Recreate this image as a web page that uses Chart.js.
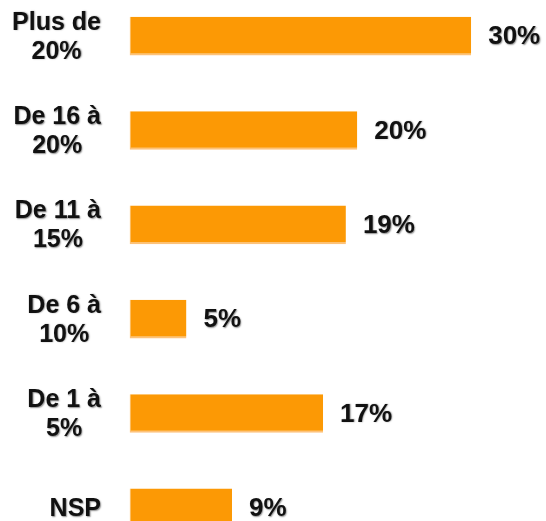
<!DOCTYPE html>
<html>
<head>
<meta charset="utf-8">
<script src="https://cdn.jsdelivr.net/npm/chart.js@4/dist/chart.umd.min.js"></script>
<style>
  html, body { margin: 0; padding: 0; background: #fff; overflow: hidden; }
  #wrap { position: absolute; left: 0; top: -11px; width: 546px; height: 566px; }
</style>
</head>
<body>
<div id="wrap"><canvas id="chart" width="546" height="566"></canvas></div>
<script>
// Data
const categories = [
  ['Plus de', '20%'],
  ['De 16 à', '20%'],
  ['De 11 à', '15%'],
  ['De 6 à', '10%'],
  ['De 1 à', '5%'],
  ['NSP']
];
const values = [30, 20, 19, 5, 17, 9];

const barColor = '#FC9905';
const edgeColor = '#FDC27A';
const textColor = '#111111';
const fontFamily = '"Liberation Sans", Arial, sans-serif';

// draws the value at the end of each bar and the category text on the left
const labelsPlugin = {
  id: 'labels',
  afterDatasetsDraw(chart) {
    const ctx = chart.ctx;
    const meta = chart.getDatasetMeta(0);
    const yScale = chart.scales.y;
    ctx.save();
    ctx.fillStyle = textColor;
    ctx.shadowColor = 'rgba(0,0,0,0.45)';
    ctx.shadowBlur = 1.5;
    ctx.shadowOffsetX = 0.8;
    ctx.shadowOffsetY = 0.8;

    // values
    ctx.font = 'bold 26px ' + fontFamily;
    ctx.textAlign = 'left';
    ctx.textBaseline = 'middle';
    meta.data.forEach((bar, i) => {
      ctx.fillText(values[i] + '%', bar.x + 17, bar.y + 1);
    });

    // categories: block right-aligned, lines centred inside it
    ctx.font = 'bold 25px ' + fontFamily;
    ctx.textAlign = 'center';
    const lineHeight = 29;
    const rightEdge = 101;
    categories.forEach((lines, i) => {
      const cy = yScale.getPixelForValue(i) + 1;
      const maxW = Math.max(...lines.map(l => ctx.measureText(l).width));
      const cx = rightEdge - maxW / 2;
      const top = cy - (lines.length - 1) * lineHeight / 2;
      lines.forEach((l, j) => {
        ctx.fillText(l, cx, top + j * lineHeight);
      });
    });
    ctx.restore();
  }
};

const ctx = document.getElementById('chart').getContext('2d');
const chart = new Chart(ctx, {
  type: 'bar',
  data: {
    labels: categories,
    datasets: [{
      data: values,
      backgroundColor: barColor,
      borderColor: edgeColor,
      borderWidth: { top: 0, right: 0, bottom: 2, left: 1 },
      borderSkipped: false,
      barPercentage: 0.41,
      categoryPercentage: 1
    }]
  },
  options: {
    indexAxis: 'y',
    responsive: false,
    animation: false,
    layout: { padding: { left: 129.5, right: 6.5, top: 0, bottom: 0 } },
    plugins: {
      legend: { display: false },
      tooltip: { enabled: false }
    },
    scales: {
      x: { display: false, min: 0, max: 36 },
      y: { display: false }
    }
  },
  plugins: [labelsPlugin]
});
</script>
</body>
</html>
